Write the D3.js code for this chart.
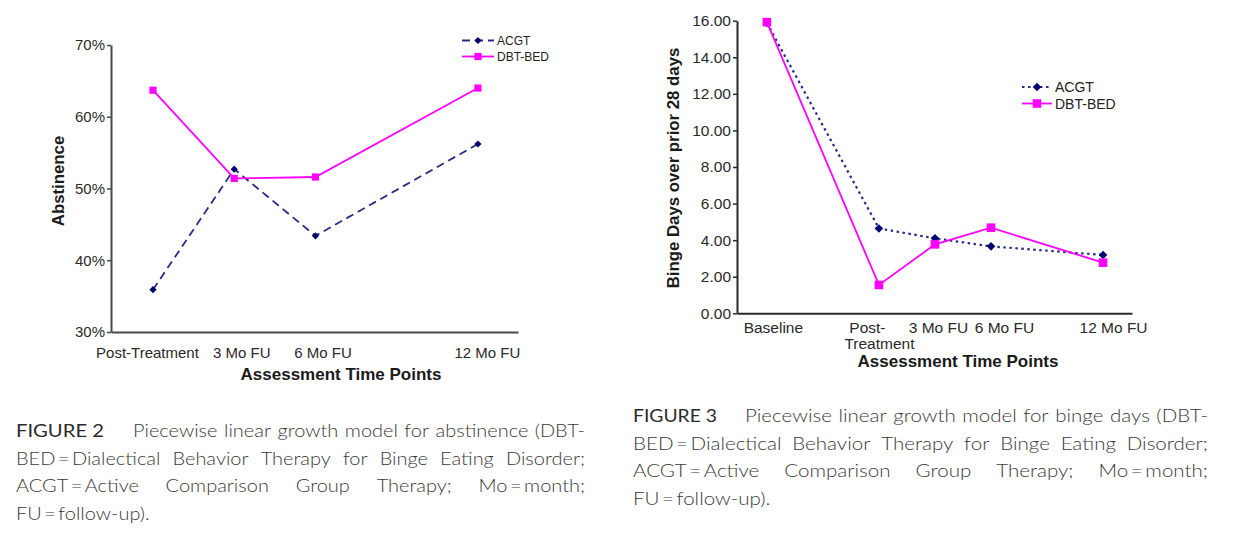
<!DOCTYPE html>
<html>
<head>
<meta charset="utf-8">
<script src="https://cdn.jsdelivr.net/npm/d3@7"></script>
<style>
  body { margin: 0; background: #fff; }
  svg { display: block; }
</style>
</head>
<body>
<div id="fig"></div>
<script>
// values
var absCategories = ["Post-Treatment", "3 Mo FU", "6 Mo FU", "12 Mo FU"];
var absMonths = [0, 3, 6, 12];
var absACGT = [0.359, 0.527, 0.434, 0.562];
var absDBT = [0.637, 0.514, 0.516, 0.640];
var absTicks = [0.3, 0.4, 0.5, 0.6, 0.7];

var bingeCategories = ["Baseline", "Post-|Treatment", "3 Mo FU", "6 Mo FU", "12 Mo FU"];
var bingeMonths = [-6, 0, 3, 6, 12];
var bingeACGT = [15.88, 4.64, 4.10, 3.66, 3.19];
var bingeDBT = [15.92, 1.55, 3.77, 4.68, 2.77];
var bingeTicks = [0, 2, 4, 6, 8, 10, 12, 14, 16];

var seriesNames = ["ACGT", "DBT-BED"];

var caption2 = ["Piecewise linear growth model for abstinence (DBT-",
  "BED\u2009=\u2009Dialectical Behavior Therapy for Binge Eating Disorder;",
  "ACGT\u2009=\u2009Active Comparison Group Therapy; Mo\u2009=\u2009month;",
  "FU\u2009=\u2009follow-up)."];
var caption3 = ["Piecewise linear growth model for binge days (DBT-",
  "BED\u2009=\u2009Dialectical Behavior Therapy for Binge Eating Disorder;",
  "ACGT\u2009=\u2009Active Comparison Group Therapy; Mo\u2009=\u2009month;",
  "FU\u2009=\u2009follow-up)."];

var width = 1244, height = 552;
var chartFont = "'Liberation Sans', Arial, sans-serif";
var navy = "#000070", navyLine = "#2a2a86", magenta = "#ff00ff";

var svg = d3.select("#fig").append("svg")
    .attr("width", width)
    .attr("height", height);

function diamond(r) {
  return "M0," + (-r) + "L" + r + ",0L0," + r + "L" + (-r) + ",0Z";
}

function drawChart(o) {
  var g = svg.append("g");
  var x = d3.scaleLinear().domain(o.xDomain).range([o.left, o.right]);
  var y = d3.scaleLinear().domain(o.yDomain).range([o.bottom, o.top]);

  // y axis
  var ya = g.append("g")
      .attr("transform", "translate(" + o.left + ",0)")
      .call(d3.axisLeft(y).tickValues(o.yTicks).tickFormat(o.yFormat)
        .tickSize(4).tickPadding(2).tickSizeOuter(0));
  ya.select(".domain").attr("stroke", o.axisColor).attr("stroke-width", 2);
  ya.selectAll(".tick line").attr("stroke", o.axisColor).attr("stroke-width", 1.5);
  ya.selectAll(".tick text")
      .style("font-family", chartFont)
      .style("font-size", o.tickSize + "px")
      .attr("fill", "#2a2a2a");

  // x axis
  var xa = g.append("g")
      .attr("transform", "translate(0," + o.bottom + ")")
      .call(d3.axisBottom(x).tickValues(o.months).tickSize(0).tickSizeOuter(0)
        .tickFormat(function () { return ""; }));
  xa.select(".domain").attr("stroke", o.axisColor).attr("stroke-width", 2);
  xa.selectAll(".tick text").each(function (d, i) {
    var t = d3.select(this)
        .attr("y", o.labelY)
        .attr("dy", 0)
        .attr("dx", o.labelShift[i])
        .style("font-family", chartFont)
        .style("font-size", o.tickSize + "px")
        .attr("fill", "#2a2a2a");
    o.categories[i].split("|").forEach(function (part, k) {
      t.append("tspan")
          .attr("x", 0)
          .attr("dy", k === 0 ? 0 : o.tickSize)
          .text(part);
    });
  });

  // axis titles
  g.append("text")
      .attr("x", o.xTitleX)
      .attr("y", o.xTitleY)
      .attr("text-anchor", "middle")
      .style("font-family", chartFont)
      .style("font-weight", "bold")
      .style("font-size", "17px")
      .attr("fill", "#1a1a1a")
      .text("Assessment Time Points");

  g.append("text")
      .attr("transform", "translate(" + o.yTitleX + "," + o.yTitleY + ") rotate(-90)")
      .attr("text-anchor", "middle")
      .attr("dy", "0.36em")
      .style("font-family", chartFont)
      .style("font-weight", "bold")
      .style("font-size", "16.8px")
      .attr("fill", "#1a1a1a")
      .text(o.yTitle);

  var acgt = o.months.map(function (m, i) { return { m: m, v: o.acgt[i] }; });
  var dbt = o.months.map(function (m, i) { return { m: m, v: o.dbt[i] }; });
  var line = d3.line()
      .x(function (d) { return x(d.m); })
      .y(function (d) { return y(d.v); });

  g.append("path")
      .datum(acgt)
      .attr("d", line)
      .attr("fill", "none")
      .attr("stroke", navyLine)
      .attr("stroke-width", o.acgtWidth)
      .attr("stroke-dasharray", o.acgtDash);

  g.append("path")
      .datum(dbt)
      .attr("d", line)
      .attr("fill", "none")
      .attr("stroke", magenta)
      .attr("stroke-width", 1.8);

  g.selectAll(".dia").data(acgt).enter().append("path")
      .attr("transform", function (d) { return "translate(" + x(d.m) + "," + y(d.v) + ")"; })
      .attr("d", diamond(o.markR))
      .attr("fill", navy);

  g.selectAll(".sq").data(dbt).enter().append("rect")
      .attr("x", function (d) { return x(d.m) - o.markR; })
      .attr("y", function (d) { return y(d.v) - o.markR; })
      .attr("width", o.markR * 2)
      .attr("height", o.markR * 2)
      .attr("fill", magenta);

  // legend
  var lg = g.append("g").attr("transform", "translate(" + o.legendX + "," + o.legendY + ")");
  seriesNames.forEach(function (name, i) {
    var yy = i * o.legendStep;
    lg.append("line")
        .attr("x1", 0).attr("x2", o.legendW)
        .attr("y1", yy).attr("y2", yy)
        .attr("stroke", i === 0 ? navyLine : magenta)
        .attr("stroke-width", i === 0 ? o.acgtWidth : 1.8)
        .attr("stroke-dasharray", i === 0 ? o.acgtDash : null);
    if (i === 0) {
      lg.append("path")
          .attr("transform", "translate(" + o.legendW / 2 + "," + yy + ")")
          .attr("d", diamond(o.markR))
          .attr("fill", navy);
    } else {
      lg.append("rect")
          .attr("x", o.legendW / 2 - o.markR).attr("y", yy - o.markR)
          .attr("width", o.markR * 2).attr("height", o.markR * 2)
          .attr("fill", magenta);
    }
    lg.append("text")
        .attr("x", o.legendW + 3)
        .attr("y", yy)
        .attr("dy", "0.36em")
        .style("font-family", chartFont)
        .style("font-size", o.legendFont + "px")
        .attr("fill", "#222")
        .text(name);
  });
}

drawChart({
  left: 111, right: 518, top: 45, bottom: 332,
  xDomain: [-1.55, 13.48], yDomain: [0.3, 0.7],
  months: absMonths, categories: absCategories,
  acgt: absACGT, dbt: absDBT,
  yTicks: absTicks, yFormat: d3.format(".0%"),
  tickSize: 15, labelY: 26, labelShift: [-6, 7, 7, 9],
  xTitleX: 341, xTitleY: 380, axisColor: "#4a4a4a",
  yTitle: "Abstinence", yTitleX: 58, yTitleY: 181,
  acgtDash: "8,5", acgtWidth: 1.8, markR: 3.6,
  legendX: 462, legendY: 40.5, legendStep: 16, legendW: 32, legendFont: 12
});

drawChart({
  left: 737, right: 1132, top: 20.7, bottom: 313.3,
  xDomain: [-7.6, 13.55], yDomain: [0, 16],
  months: bingeMonths, categories: bingeCategories,
  acgt: bingeACGT, dbt: bingeDBT,
  yTicks: bingeTicks, yFormat: d3.format(".2f"),
  tickSize: 15.5, labelY: 20, labelShift: [6, -12, 3, 13, 10],
  xTitleX: 958, xTitleY: 367, axisColor: "#2a2a2a",
  yTitle: "Binge Days over prior 28 days", yTitleX: 673, yTitleY: 168,
  acgtDash: "2.5,3.5", acgtWidth: 2.2, markR: 4.3,
  legendX: 1022, legendY: 87, legendStep: 16.5, legendW: 30, legendFont: 14
});

// captions: every word its own text, widened to the reference face, lines justified
var capFont = "Lato, 'Open Sans', sans-serif";
var capGap = 6.5;

function drawCaption(label, labelW, lines, x0, labelEnd, x1, y0, step) {
  var g = svg.append("g")
      .style("font-family", capFont)
      .style("font-size", "18px")
      .attr("fill", "#3a3a3a");
  g.append("text")
      .attr("x", x0).attr("y", y0)
      .attr("textLength", labelW)
      .attr("lengthAdjust", "spacingAndGlyphs")
      .style("font-weight", 400)
      .attr("fill", "#2a2a2a")
      .text(label);

  var body = g.append("g").style("font-weight", 300);
  var rows = lines.map(function (ln, i) {
    return ln.split(" ").map(function (w) {
      var t = body.append("text").attr("y", y0 + i * step).text(w);
      return { t: t, w: t.node().getComputedTextLength() };
    });
  });

  // one stretch factor for the caption: the tightest justified line gets natural gaps
  var s = d3.min(rows.slice(0, rows.length - 1), function (row, i) {
    var start = i === 0 ? labelEnd : x0;
    return (x1 - start - (row.length - 1) * capGap) / d3.sum(row, function (d) { return d.w; });
  });

  rows.forEach(function (row, i) {
    var start = i === 0 ? labelEnd : x0;
    var total = d3.sum(row, function (d) { return d.w * s; });
    var justify = i < rows.length - 1 && row.length > 1;
    var gap = justify ? (x1 - start - total) / (row.length - 1) : capGap;
    var xx = start;
    row.forEach(function (d) {
      d.t.attr("x", xx)
          .attr("textLength", d.w * s)
          .attr("lengthAdjust", "spacingAndGlyphs");
      xx += d.w * s + gap;
    });
  });
}

drawCaption("FIGURE 2", 88, caption2, 16, 133, 585, 436.7, 27.8);
drawCaption("FIGURE 3", 84, caption3, 633, 745, 1208, 421.7, 27.8);
</script>
</body>
</html>
